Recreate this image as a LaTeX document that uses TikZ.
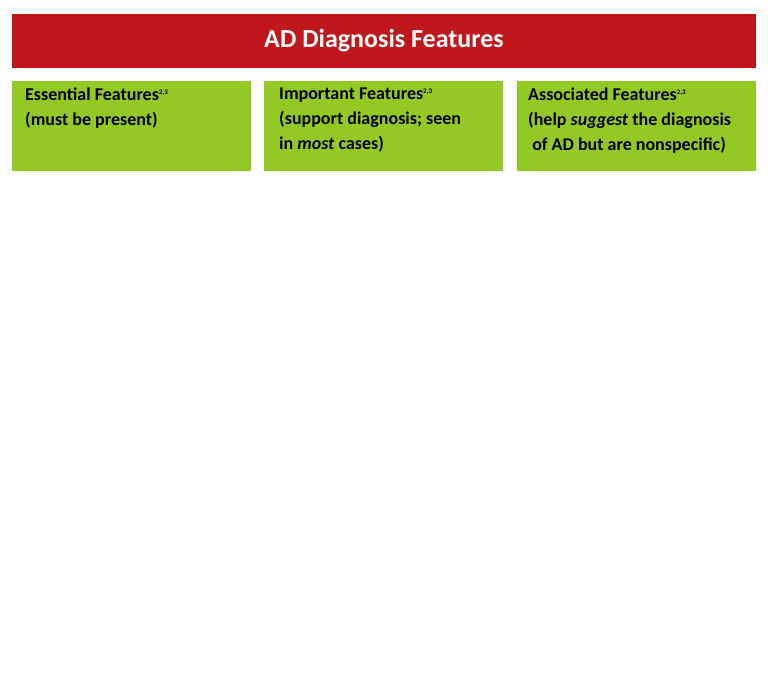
\documentclass[tikz,border=0pt]{standalone}
\usepackage{fontspec}
\setmainfont{Carlito}
\usetikzlibrary{positioning}
\definecolor{banred}{HTML}{C0171A}
\definecolor{boxgreen}{HTML}{93C923}
\begin{document}
\begin{tikzpicture}[x=1pt,y=-1pt]
\tikzset{font={\bfseries\fontsize{18}{25}\selectfont}}
\tikzset{featbox/.style={fill=boxgreen,minimum width=239pt,minimum height=90pt,inner sep=0pt}}
\tikzset{feattext/.style={anchor=north west,align=left,inner sep=0pt}}
\useasboundingbox (0,0) rectangle (768,688);
%Banner
\node[fill=banred,minimum width=744pt,minimum height=54pt,inner sep=0pt,text=white,
  font={\bfseries\fontsize{26}{30}\selectfont}] (title) at (384,41) {AD Diagnosis Features};
%Boxes
\node[featbox] (essential) at (131.5,126) {};
\node[featbox] (important) at (383.5,126) {};
\node[featbox] (associated) at (636,126) {};
\node[feattext] (esstext) at (25,88) {Essential Features\textsuperscript{\scriptsize 2,3}\\(must be present)};
\node[feattext] (imptext) at (279,88) {Important Features\textsuperscript{\scriptsize 2,3}\\(support diagnosis; seen\\in \textit{most} cases)};
\node[feattext] (asstext) at (528,88) {Associated Features\textsuperscript{\scriptsize 2,3}\\(help \textit{suggest} the diagnosis\\\ of AD but are nonspecific)};
\end{tikzpicture}
\end{document}
